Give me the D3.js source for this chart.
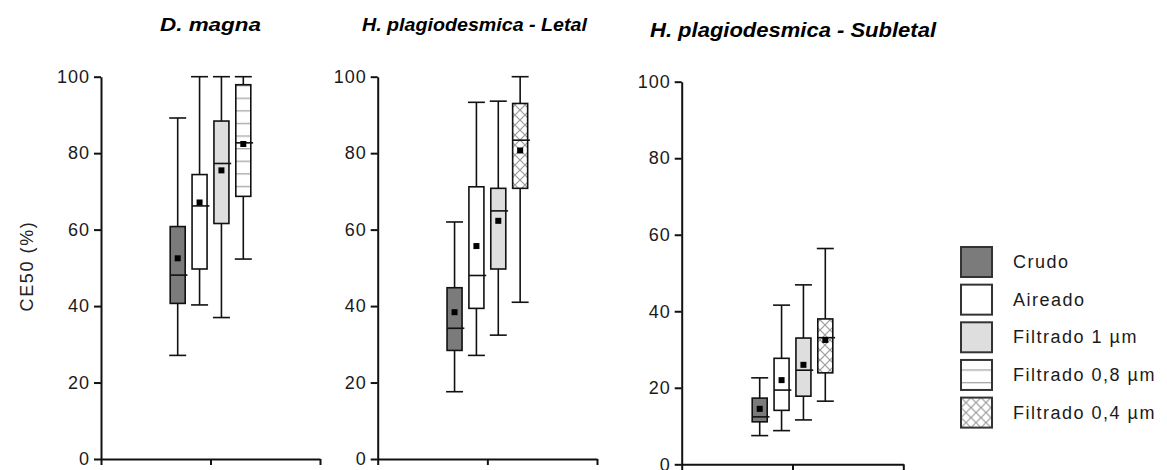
<!DOCTYPE html>
<html>
<head>
<meta charset="utf-8">
<script src="https://cdn.jsdelivr.net/npm/d3@7"></script>
<style>
  html, body { margin: 0; padding: 0; background: #fff; }
  svg { display: block; font-family: "Liberation Sans", Arial, sans-serif; }
</style>
</head>
<body>
<svg id="chart" width="1167" height="470"></svg>
<script>
// ---- data ---------------------------------------------------------------
const panelTitles = ["D. magna", "H. plagiodesmica - Letal", "H. plagiodesmica - Subletal"];
const panelSeries = [
  ["Crudo", "Aireado", "Filtrado 1 µm", "Filtrado 0,8 µm"],
  ["Crudo", "Aireado", "Filtrado 1 µm", "Filtrado 0,4 µm"],
  ["Crudo", "Aireado", "Filtrado 1 µm", "Filtrado 0,4 µm"]
];
const legendSeries = ["Crudo", "Aireado", "Filtrado 1 µm", "Filtrado 0,8 µm", "Filtrado 0,4 µm"];
const yTicks = [0, 20, 40, 60, 80, 100];
const yLabel = "CE50 (%)";

// one row per panel, one value per box
const whiskerLow  = [[27.1, 40.3, 37.0, 52.3], [17.6, 27.1, 32.4, 41.0], [7.5, 8.8, 11.6, 16.5]];
const quartile1   = [[40.7, 49.7, 61.6, 68.7], [28.4, 39.4, 49.7, 70.8], [11.1, 14.1, 17.8, 23.9]];
const medians     = [[48.1, 66.2, 77.3, 82.7], [34.2, 48.0, 64.9, 83.4], [12.4, 19.4, 24.6, 33.1]];
const quartile3   = [[60.8, 74.4, 88.4, 97.9], [44.8, 71.2, 70.8, 93.0], [17.3, 27.7, 33.0, 38.0]];
const whiskerHigh = [[89.2, 100, 100, 100], [62.0, 93.3, 93.6, 100], [22.6, 41.6, 46.9, 56.4]];
const means       = [[52.5, 67.1, 75.5, 82.4], [38.4, 55.7, 62.3, 80.7], [14.5, 22.0, 26.0, 32.5]];

// ---- layout -------------------------------------------------------------
const frames = [
  { x0: 101,   x1: 320,   y0: 76.7, y1: 459,   titleX: 160, titleY: 31, titleLen: 101, titleSize: 18 },
  { x0: 377.7, x1: 597,   y0: 76.7, y1: 459,   titleX: 362, titleY: 31, titleLen: 225, titleSize: 18 },
  { x0: 681.7, x1: 903.3, y0: 81.7, y1: 464.3, titleX: 650, titleY: 37, titleLen: 286, titleSize: 19.5 }
];
const boxW = 15, capW = 17, meanSize = 6;

const fills = {
  "Crudo": "#7b7b7b",
  "Aireado": "#ffffff",
  "Filtrado 1 µm": "#dedede",
  "Filtrado 0,8 µm": "url(#hlines)",
  "Filtrado 0,4 µm": "url(#xhatch)"
};

const svg = d3.select("#chart");

// ---- fill patterns ------------------------------------------------------
const defs = svg.append("defs");
const hl = defs.append("pattern")
  .attr("id", "hlines").attr("patternUnits", "userSpaceOnUse")
  .attr("x", 0).attr("y", 9.4).attr("width", 12).attr("height", 12.6);
hl.append("rect").attr("width", 12).attr("height", 12.6).attr("fill", "#fff");
hl.append("line").attr("x1", 0).attr("x2", 12).attr("y1", 0.6).attr("y2", 0.6)
  .attr("stroke", "#a8a8a8").attr("stroke-width", 1.5);

const xh = defs.append("pattern")
  .attr("id", "xhatch").attr("patternUnits", "userSpaceOnUse")
  .attr("width", 10).attr("height", 10);
xh.append("rect").attr("width", 10).attr("height", 10).attr("fill", "#fff");
xh.append("path").attr("d", "M-1,-1L11,11M11,-1L-1,11")
  .attr("stroke", "#9a9a9a").attr("stroke-width", 1.2).attr("fill", "none");

// ---- panels -------------------------------------------------------------
frames.forEach((f, p) => {
  const g = svg.append("g");
  const y = d3.scaleLinear().domain([0, 100]).range([f.y1, f.y0]);
  const x = d3.scaleLinear().domain([0, 2]).range([f.x0, f.x1]);
  const slot = d3.scalePoint().domain(d3.range(panelSeries[p].length)).range([-32.8, 32.8]);

  // axes
  const yAxis = g.append("g").attr("transform", `translate(${f.x0},0)`)
    .call(d3.axisLeft(y).tickValues(yTicks).tickSize(7).tickPadding(4).tickSizeOuter(0));
  const xAxis = g.append("g").attr("transform", `translate(0,${f.y1})`)
    .call(d3.axisBottom(x).tickValues([0, 1, 2]).tickFormat("").tickSize(6).tickSizeOuter(0));
  [yAxis, xAxis].forEach(a => {
    a.selectAll("path, line").attr("stroke", "#111").attr("stroke-width", 2);
  });
  yAxis.selectAll("text")
    .attr("font-size", 18).attr("fill", "#1a1a1a").attr("letter-spacing", "1px")
    .attr("font-family", "'Liberation Sans', Arial, sans-serif");

  // title
  g.append("text")
    .attr("x", f.titleX).attr("y", f.titleY)
    .attr("font-size", f.titleSize).attr("font-weight", "bold").attr("font-style", "italic")
    .attr("textLength", f.titleLen).attr("lengthAdjust", "spacingAndGlyphs")
    .attr("fill", "#000")
    .text(panelTitles[p]);

  // boxes
  panelSeries[p].forEach((name, i) => {
    const cx = x(1) + slot(i);
    const b = g.append("g").attr("stroke", "#111").attr("stroke-width", 1.6);
    // whisker stem
    b.append("line").attr("x1", cx).attr("x2", cx)
      .attr("y1", y(whiskerLow[p][i])).attr("y2", y(whiskerHigh[p][i]));
    // caps
    [whiskerLow[p][i], whiskerHigh[p][i]].forEach(v => {
      b.append("line").attr("x1", cx - capW / 2).attr("x2", cx + capW / 2)
        .attr("y1", y(v)).attr("y2", y(v));
    });
    // interquartile box
    b.append("rect")
      .attr("x", cx - boxW / 2).attr("width", boxW)
      .attr("y", y(quartile3[p][i]))
      .attr("height", y(quartile1[p][i]) - y(quartile3[p][i]))
      .attr("fill", fills[name]);
    // median
    b.append("line").attr("x1", cx - boxW / 2).attr("x2", cx + boxW / 2 + 2.3)
      .attr("y1", y(medians[p][i])).attr("y2", y(medians[p][i]));
    // mean
    g.append("rect")
      .attr("x", cx - meanSize / 2).attr("y", y(means[p][i]) - meanSize / 2)
      .attr("width", meanSize).attr("height", meanSize).attr("fill", "#000");
  });
});

// ---- y label ------------------------------------------------------------
svg.append("text")
  .attr("transform", "translate(33,266) rotate(-90)")
  .attr("text-anchor", "middle")
  .attr("font-size", 18).attr("letter-spacing", "1.6px").attr("fill", "#222")
  .text(yLabel);

// ---- legend -------------------------------------------------------------
const legend = svg.append("g").attr("transform", "translate(961,247)");
const legendY = d3.scalePoint().domain(legendSeries).range([0, 150.6]);
legendSeries.forEach(name => {
  const row = legend.append("g").attr("transform", `translate(0,${legendY(name)})`);
  row.append("rect").attr("width", 31).attr("height", 30)
    .attr("fill", fills[name]).attr("stroke", "#333").attr("stroke-width", 2);
  row.append("text").attr("x", 52).attr("y", 21)
    .attr("font-size", 18).attr("letter-spacing", "1.5px").attr("fill", "#1a1a1a")
    .text(name);
});
</script>
</body>
</html>
